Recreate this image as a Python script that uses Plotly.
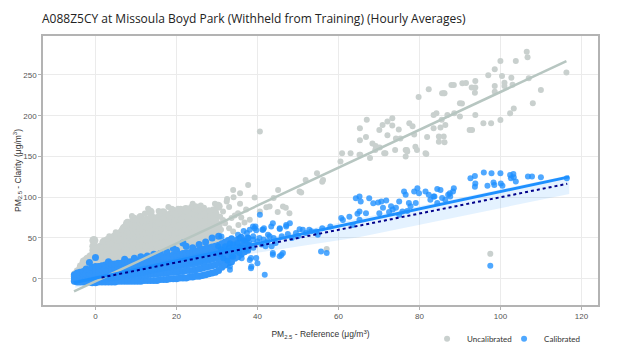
import plotly.graph_objects as go

# ---------------- data ----------------
# Uncalibrated (Clarity raw) - dense core, column by column
unc_core_x = (
    [-5.0]*3 + [-4.3]*3 + [-3.5]*4 + [-2.8]*5 + [-2.0]*5 + [-1.2]*5 + [-0.4]*8 +
    [0.5]*6 + [1.3]*6 + [2.1]*7 + [3.0]*7 + [3.8]*7 + [4.6]*7 + [5.5]*7 + [6.3]*7 +
    [7.1]*8 + [7.9]*8 + [8.7]*8 + [9.5]*9 + [10.3]*8 + [11.1]*9 + [11.9]*8 + [12.7]*8 +
    [13.5]*9 + [14.3]*8 + [15.1]*8 + [15.9]*8 + [16.7]*9 + [17.5]*8 + [18.3]*8 +
    [19.1]*9 + [19.9]*8 + [20.7]*8 + [21.5]*8 + [22.3]*8 + [23.1]*8 + [23.9]*7 +
    [24.7]*8 + [25.5]*6 + [26.3]*7 + [27.1]*6 + [27.9]*5 + [28.7]*5 + [29.5]*5 + [30.3]*4
)
unc_core_y = [
    -2, 3, 5,
    -1, 5, 9,
    0, 6, 11, 15,
    1, 7, 13, 18, 21,
    2, 9, 14, 20, 24,
    3, 8, 16, 21, 27,
    3, 11, 17, 24, 30, 35, 40, 47,
    4, 12, 18, 25, 31, 37,
    5, 11, 20, 26, 33, 39,
    5, 13, 19, 28, 34, 40, 45,
    6, 12, 22, 28, 36, 42, 47,
    7, 15, 21, 30, 36, 44, 49,
    7, 14, 24, 29, 38, 44, 51,
    8, 17, 23, 32, 38, 47, 53,
    9, 16, 26, 32, 41, 48, 56,
    10, 19, 25, 34, 41, 50, 57, 62,
    11, 18, 28, 34, 43, 50, 59, 68,
    11, 20, 27, 36, 43, 52, 58, 65,
    12, 19, 29, 36, 45, 52, 61, 67, 73,
    13, 22, 28, 38, 45, 54, 60, 66,
    14, 21, 31, 38, 47, 54, 63, 70, 75,
    15, 24, 30, 40, 47, 56, 62, 71,
    16, 23, 33, 40, 49, 56, 65, 72,
    16, 25, 32, 42, 49, 58, 64, 73, 82,
    17, 24, 34, 41, 51, 58, 67, 74,
    18, 27, 33, 43, 50, 60, 66, 73,
    19, 26, 36, 43, 52, 59, 69, 76,
    20, 29, 35, 45, 52, 61, 68, 77, 81,
    21, 28, 38, 44, 54, 61, 70, 76,
    22, 31, 37, 47, 53, 63, 69, 78,
    23, 30, 40, 46, 56, 62, 72, 79, 83,
    24, 33, 39, 49, 55, 65, 71, 80,
    25, 32, 42, 48, 58, 64, 74, 78,
    26, 35, 41, 51, 57, 67, 73, 82,
    27, 34, 44, 50, 60, 66, 76, 85,
    28, 37, 43, 53, 59, 69, 75, 81,
    30, 37, 47, 53, 63, 69, 78,
    32, 41, 47, 57, 63, 73, 79, 87,
    34, 43, 50, 59, 65, 75,
    36, 45, 51, 61, 67, 77, 83,
    38, 47, 53, 63, 69, 79,
    41, 50, 56, 66, 73,
    44, 53, 59, 69, 77,
    47, 56, 62, 72, 80,
    50, 59, 66, 89,
]
# Uncalibrated - scattered points
unc_sparse_x = [
    40.6, 57.1, 97.5,
    30.3, 31.5, 32.4, 32.5, 33.6, 34.0, 34.1, 34.4, 35.2, 35.3, 35.7, 36.8, 37.2, 37.7,
    38.1, 39.3, 40.6, 42.2, 43.0, 44.0, 45.0, 45.1, 46.3, 47.0, 47.9, 50.4, 50.8, 51.9,
    54.7, 56.0, 56.2, 31.0, 32.0, 33.0, 31.5, 30.8, 34.0, 36.0, 29.0, 28.0, 29.5, 26.0,
    24.0, 33.0, 35.7, 21.0, 18.0, 0.0, -0.3, 9.0, 13.0, 6.5,
    3.4, 7.4, 12.2, 15.6, 20.4, 26.8, 1.8, 5.0, 9.8, 18.8, 23.6,
    60.5, 60.9, 63.0, 65.4, 65.2, 65.3, 65.3, 67.0, 67.8, 66.8, 68.4, 69.2, 69.1, 70.1,
    70.2, 71.3, 71.6, 70.9, 72.1, 73.3, 73.3, 72.1, 74.2, 74.9, 74.0, 76.6, 76.6, 77.0,
    77.5, 78.3, 78.7, 79.0, 79.4, 81.7, 75.3, 81.5, 76.9, 81.9, 83.5, 79.8, 82.3, 86.0,
    88.5, 90.5, 83.5, 85.5, 84.2,
    106.5, 106.7, 100.0, 103.8, 98.6, 97.0, 100.4, 102.7, 107.0, 116.3, 87.9, 90.6, 91.5,
    93.8, 92.9, 93.8, 93.7, 98.6, 101.0, 101.0, 103.0, 98.6, 85.6, 86.2, 110.0, 108.0,
    90.0, 86.9, 88.6, 90.0, 93.8, 103.3, 102.4, 100.0, 97.7, 95.8, 93.0, 92.4, 85.2, 86.4,
    84.8, 86.0, 86.2, 84.8,
]
unc_sparse_y = [
    180.5, 36.6, 30.6,
    88.6, 82.5, 94.7, 97.7, 74.4, 109, 100, 77.7, 80.5, 66, 105, 69, 85, 115,
    72.3, 99.7, 82.5, 87.6, 88.6, 99, 82, 109, 88.6, 87, 80.5, 107, 105.8, 121,
    129.5, 119, 121, 60, 68, 62, 72, 76, 58, 75, 85, 84, 92, 90,
    92, 88, 92, 86, 88, 38, 44, 77, 86, 60,
    52, 65, 80, 83, 86, 87, 45, 57, 72, 86, 88,
    143.8, 154, 154, 152, 152, 170, 184.7, 195, 148, 174, 166, 163, 158, 182.6,
    161, 154, 154, 188.7, 192.8, 197, 188, 176, 172, 183, 158, 158, 150, 156,
    190.8, 187, 177, 162, 158, 153, 172, 154, 158, 174, 184.7, 223, 232.5, 227.5,
    237.7, 215, 201, 195, 203,
    278.6, 271.7, 267, 267, 257, 249.6, 248.8, 246.7, 246, 253, 237.7, 239.8, 240,
    242.6, 234.5, 234.5, 228.3, 236.5, 240.6, 236.5, 238, 229.5, 227.5, 227.5, 231.6, 215.3,
    215.3, 201, 203, 199, 201, 209, 203, 194.9, 190.8, 190.8, 182.6, 182.6, 185.4, 188.7,
    174.4, 174.4, 167.5, 168,
]

# Calibrated - dense core, column by column
cal_core_x = (
    [-5.2]*3 + [-4.5]*4 + [-3.8]*4 + [-3.0]*4 + [-2.3]*4 + [-1.5]*5 + [-0.8]*5 +
    [0.0]*6 + [0.8]*5 + [1.6]*5 + [2.4]*5 + [3.2]*6 + [4.0]*5 + [4.8]*5 + [5.6]*5 +
    [6.4]*5 + [7.2]*6 + [8.0]*5 + [8.8]*5 + [9.6]*6 + [10.4]*5 + [11.2]*6 + [12.0]*5 +
    [12.8]*6 + [13.6]*5 + [14.4]*6 + [15.2]*5 + [16.0]*6 + [16.8]*5 + [17.6]*6 +
    [18.4]*5 + [19.2]*6 + [20.0]*6 + [20.8]*5 + [21.6]*6 + [22.4]*6 + [23.2]*5 +
    [24.0]*6 + [24.8]*5 + [25.6]*6 + [26.4]*5 + [27.2]*6 + [28.0]*5 + [28.8]*6 +
    [29.6]*5 + [30.4]*6 + [31.2]*5 + [32.0]*5 + [32.8]*5 + [33.6]*5 + [34.4]*4 +
    [35.2]*4 + [36.0]*4 + [36.8]*3 + [37.6]*3
)
cal_core_y = [
    -3, 1, 5,
    -4, 0, 4, 7,
    -4, 0, 4, 8,
    -4, 0, 5, 9,
    -4, 1, 6, 12,
    -4, 1, 6, 11, 20,
    -5, 0, 5, 10, 14,
    -5, 0, 5, 10, 15, 26,
    -4, 1, 6, 11, 15,
    -4, 1, 6, 11, 16,
    -4, 1, 6, 12, 17,
    -4, 2, 7, 12, 17, 21,
    -4, 2, 7, 13, 18,
    -4, 2, 8, 13, 18,
    -3, 2, 8, 14, 19,
    -3, 3, 8, 14, 19,
    -3, 3, 9, 15, 20, 24,
    -3, 3, 9, 15, 21,
    -3, 4, 10, 16, 21,
    -3, 4, 10, 16, 22, 25,
    -3, 4, 10, 17, 22,
    -3, 5, 11, 17, 23, 27,
    -2, 5, 11, 18, 24,
    -2, 5, 12, 18, 24, 28,
    -2, 6, 12, 19, 25,
    -2, 6, 13, 19, 25, 30,
    -2, 6, 13, 20, 26,
    -1, 7, 14, 20, 26, 31,
    -1, 7, 14, 21, 27,
    -1, 7, 14, 21, 27, 33,
    0, 8, 15, 22, 28,
    0, 8, 15, 22, 29, 37,
    0, 8, 16, 23, 29, 35,
    1, 9, 16, 23, 30,
    1, 9, 17, 24, 31, 44,
    1, 10, 17, 25, 32, 40,
    2, 10, 18, 25, 32,
    2, 10, 18, 26, 33, 38,
    3, 11, 19, 27, 34,
    3, 12, 20, 28, 35, 42,
    4, 13, 21, 29, 36,
    5, 14, 22, 30, 37, 45,
    6, 15, 23, 31, 38,
    7, 16, 24, 32, 39, 50,
    8, 17, 25, 33, 40,
    10, 19, 27, 35, 41, 52,
    14, 22, 29, 36, 43,
    17, 24, 31, 38, 45,
    19, 26, 33, 40, 47,
    21, 28, 35, 42, 49,
    25, 32, 39, 46,
    27, 34, 41, 48,
    30, 37, 44, 51,
    33, 40, 47,
    35, 42, 50,
]
# Calibrated - scattered points
cal_sparse_x = [
    30.3, 31.1, 32.4, 33.2, 33.6, 33.2, 33.2, 34.0, 35.2, 35.6, 35.6, 36.1, 36.6, 37.2,
    37.2, 37.4, 38.1, 38.1, 38.4, 38.4, 38.5, 38.9, 39.3, 39.5, 39.7, 39.7, 40.0, 40.6,
    41.2, 41.4, 41.6, 41.8, 42.6, 43.4, 43.8, 43.8, 43.8, 45.5, 45.5, 45.5, 45.9, 46.3,
    47.1, 47.1, 48.0, 50.4, 51.2, 52.8, 53.3, 54.5, 54.9, 55.7, 57.1,
    31.0, 32.0, 33.0, 34.0, 35.0, 36.0, 37.0, 38.0, 39.0, 40.0, 30.8, 31.6, 32.6, 34.5,
    35.5, 36.5, 37.8, 39.0, 40.5, 41.5, 42.5, 43.0, 44.0, 42.0, 44.5, 46.0, 47.5, 48.5,
    49.5, 50.0, 52.0, 56.0, 58.0, 39.0, 41.0, 43.5,
    60.7, 61.1, 62.7, 63.5, 64.3, 64.7, 65.2, 65.2, 65.2, 65.5, 66.8, 67.6, 68.6, 69.8,
    70.6, 71.8, 71.0, 73.0, 73.4, 74.2, 75.0, 76.2, 76.6, 77.0, 77.8, 78.7, 79.5, 79.9,
    79.1, 77.4, 81.5, 82.3, 82.7, 83.5, 84.4, 84.4, 85.6, 86.4, 87.6, 88.5, 75.0, 72.5,
    70.1, 75.8, 87.5, 87.1, 85.2, 88.3, 83.7,
    95.9, 97.8, 100.0, 102.4, 103.2, 92.6, 93.7, 93.8, 93.7, 96.8, 98.3, 98.5, 100.1,
    100.5, 102.6, 103.8, 106.8, 107.8, 110.0, 116.4, 103.3, 97.5,
]
cal_sparse_y = [
    40, 51.8, 33.5, 43.7, 27.5, 15, 11, 27, 54, 49.8, 31.5, 25, 58.6, 35.5,
    37.6, 56, 60, 23, 25.4, 13, 15, 64, 62, 64, 59.5, 25.4, 19, 78.5,
    60, 60, 62, 5, 54, 64, 68, 29.5, 31.5, 62, 61, 27.5, 29, 31.5,
    66, 64, 68, 60.8, 60, 60, 58.2, 58, 54, 33.5, 31.5,
    36, 40, 38, 42, 44, 40, 46, 44, 48, 46, 30, 25, 22, 34,
    38, 47, 50, 52, 50, 48, 46, 52, 50, 40, 44, 52, 55, 50,
    56, 52, 56, 62, 64, 38, 42, 40,
    74.4, 72, 76, 66, 98.9, 79.7, 82.5, 72.3, 100.9, 94.8, 80.5, 98.9, 92.7, 93.5,
    94.8, 96, 87, 89, 85, 87, 94.8, 107, 103, 83, 89, 107, 111, 105,
    93, 93, 107, 103, 97, 101, 110, 93, 99, 97, 101, 111, 78.5, 82,
    80.5, 82.5, 105, 103, 109, 107, 101,
    130.3, 129.5, 129.5, 127.4, 128.6, 123.4, 126.2, 117, 113, 114, 118.2, 115, 117,
    114, 123.4, 119.3, 125.4, 125.4, 124.6, 123.4, 124.6, 16,
]

# Fitted lines and bands
unc_fit_x = [-5.3, 116.3]
unc_fit_y = [-15.5, 267.0]
cal_fit_x = [-5.4, 117.0]
cal_fit_y = [-5.0, 125.0]
one_to_one_x = [1.5, 116.5]
one_to_one_y = [1.5, 116.5]
band_x = [-5.0, 10.0, 35.0, 65.0, 117.0]
band_upper = [-2.0, 14.0, 42.0, 74.0, 127.0]
band_lower = [-11.0, 2.0, 28.0, 51.0, 104.0]

x_ticks = [0, 20, 40, 60, 80, 100, 120]
y_ticks = [0, 50, 100, 150, 200, 250]

# ---------------- figure ----------------
GRAY = "#c9d0ce"
BLUE = "rgba(30,144,255,0.78)"
BLUE_CORE = "#3296fb"

fig = go.Figure()
fig.add_trace(go.Scatter(x=unc_core_x, y=unc_core_y, mode="markers", showlegend=False,
                         marker=dict(color=GRAY, size=9, line=dict(width=0)),
                         hoverinfo="skip"))
fig.add_trace(go.Scatter(x=unc_sparse_x, y=unc_sparse_y,
                         mode="markers", name="Uncalibrated",
                         marker=dict(color=GRAY, size=6, line=dict(width=0))))
fig.add_trace(go.Scatter(x=cal_core_x, y=cal_core_y, mode="markers", showlegend=False,
                         marker=dict(color=BLUE_CORE, size=7, line=dict(width=0)),
                         hoverinfo="skip"))
fig.add_trace(go.Scatter(x=cal_sparse_x, y=cal_sparse_y,
                         mode="markers", name="Calibrated",
                         marker=dict(color=BLUE, size=6, line=dict(width=0))))
fig.add_trace(go.Scatter(x=band_x + band_x[::-1], y=band_upper + band_lower[::-1],
                         fill="toself", fillcolor="rgba(30,144,255,0.12)",
                         line=dict(width=0), mode="lines", showlegend=False,
                         hoverinfo="skip"))
fig.add_trace(go.Scatter(x=unc_fit_x, y=unc_fit_y, mode="lines", showlegend=False,
                         line=dict(color="#b7c6c1", width=2.5)))
fig.add_trace(go.Scatter(x=cal_fit_x, y=cal_fit_y, mode="lines", showlegend=False,
                         line=dict(color="#1e90ff", width=3)))
fig.add_trace(go.Scatter(x=one_to_one_x, y=one_to_one_y, mode="lines", showlegend=False,
                         line=dict(color="#00008b", width=2, dash="dot")))

axis_common = dict(
    showgrid=True, gridcolor="#ebebeb", gridwidth=1, zeroline=False,
    showline=True, linecolor="#b3b3b3", linewidth=1.5, mirror=True,
    ticks="outside", ticklen=3, tickcolor="#b3b3b3",
    tickfont=dict(family="Liberation Sans, Arial", size=8, color="#555555"),
)
fig.update_xaxes(range=[-12.96, 124.1], tickvals=x_ticks, **axis_common,
                 title=dict(text="PM<sub>2.5</sub> - Reference (μg/m<sup>3</sup>)",
                            font=dict(family="Liberation Sans, Arial", size=8.5, color="#333333"),
                            standoff=11))
fig.update_yaxes(range=[-32.2, 297.8], tickvals=y_ticks, **axis_common,
                 title=dict(text="PM<sub>2.5</sub> - Clarity (μg/m<sup>3</sup>)",
                            font=dict(family="Liberation Sans, Arial", size=8.5, color="#333333"),
                            standoff=0))

# The page adds an 8 px body margin, so the figure is 616 x 349 and offset.
fig.update_layout(
    width=616, height=349,
    margin=dict(l=35, r=26, t=28, b=52, autoexpand=False),
    paper_bgcolor="white", plot_bgcolor="white",
    title=dict(text="A088Z5CY at Missoula Boyd Park (Withheld from Training) (Hourly Averages)",
               x=34/616, xanchor="left", xref="container",
               y=1-11/349, yanchor="middle", yref="container",
               font=dict(family="Open Sans", size=12, color="#222222")),
    legend=dict(orientation="h", x=0.692, xanchor="left", y=-0.125, yanchor="middle",
                font=dict(family="Lato", size=8, color="#333333"),
                itemwidth=30, entrywidth=32, bgcolor="rgba(0,0,0,0)"),
    showlegend=True,
)

fig.write_html("out.html")
